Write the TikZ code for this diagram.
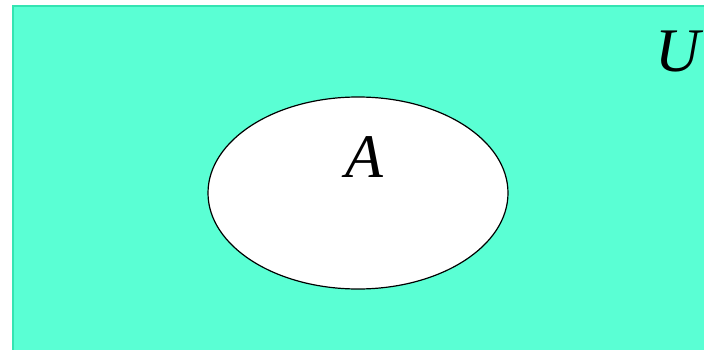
\documentclass[tikz,border=0pt]{standalone}
\usepackage{fontspec}
\setmainfont{Liberation Serif}
\usetikzlibrary{shapes.geometric}
\definecolor{aquafill}{RGB}{90,255,212}
\definecolor{aquaedge}{RGB}{52,228,178}
\begin{document}
\begin{tikzpicture}[
    x=1pt, y=1pt,
    universe/.style={
        draw=aquaedge,
        fill=aquafill,
        line width=1.5pt
    },
    set/.style={
        draw,
        ellipse,
        fill=white,
        line width=1.2pt,
        minimum width=300pt,
        minimum height=192pt
    },
    label/.style={
        font=\fontsize{62}{70}\selectfont\itshape,
        inner sep=0pt
    }
]
\useasboundingbox (0,0) rectangle (704,-350);

\draw[universe] (13,-6) rectangle (716,-362);

\node[set] (setA) at (358,-193) {};
\node[label] (labelA) at (364,-157) {A};
\node[label] (labelU) at (678,-52) {U};

\end{tikzpicture}
\end{document}
